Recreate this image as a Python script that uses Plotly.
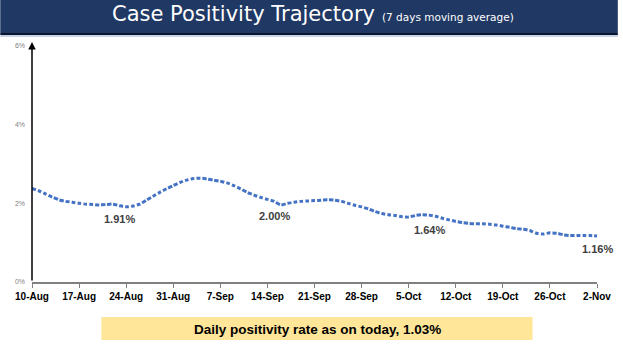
import plotly.graph_objects as go
import pandas as pd

# ---- data ----
start_date = "2020-08-10"
positivity = [
    2.38, 2.32, 2.24, 2.16, 2.09, 2.05, 2.03, 2.00, 1.98, 1.97, 1.96, 1.97, 1.98, 1.94, 1.91, 1.93,
    1.98, 2.08, 2.18, 2.28, 2.37, 2.45,
    2.53, 2.59, 2.63, 2.64, 2.62, 2.59, 2.56, 2.52, 2.45, 2.37, 2.28, 2.21, 2.15, 2.10, 2.05, 1.96,
    2.00, 2.03, 2.05, 2.06, 2.07, 2.08, 2.09, 2.08, 2.05, 2.00, 1.95, 1.91, 1.86, 1.79,
    1.74, 1.71, 1.69, 1.66, 1.65, 1.69, 1.71, 1.70, 1.67, 1.62, 1.58, 1.54, 1.51, 1.49, 1.48, 1.48,
    1.47, 1.45, 1.42, 1.39, 1.36, 1.34, 1.31, 1.24, 1.22, 1.25, 1.24, 1.20, 1.18, 1.18, 1.18,
    1.18, 1.17,
]
dates = pd.date_range(start_date, periods=len(positivity), freq="D")

tick_dates = pd.date_range(start_date, "2020-11-02", freq="7D")
tick_labels = ["10-Aug", "17-Aug", "24-Aug", "31-Aug", "7-Sep", "14-Sep", "21-Sep",
               "28-Sep", "5-Oct", "12-Oct", "19-Oct", "26-Oct", "2-Nov"]

y_ticks = [0, 2, 4, 6]
y_tick_labels = ["0%", "2%", "4%", "6%"]

callout_dates = ["2020-08-24", "2020-09-16", "2020-10-05", "2020-11-02"]
callout_values = [1.91, 2.00, 1.64, 1.16]
callout_labels = ["1.91%", "2.00%", "1.64%", "1.16%"]

title_main = "Case Positivity Trajectory"
title_sub = "(7 days moving average)"
footer_text = "Daily positivity rate as on today, 1.03%"

# ---- layout geometry (pixels) ----
W, H = 623, 354
L, R, T, B = 32, 21, 46, 72
PW, PH = W - L - R, H - T - B


def px(x):
    return (x - L) / PW


def py(y):
    return (H - B - y) / PH


fig = go.Figure()
fig.add_trace(go.Scatter(
    x=dates, y=positivity, mode="lines",
    line=dict(color="#4472C4", width=3, dash="4px,2px", shape="spline", smoothing=0.6),
    hoverinfo="skip", showlegend=False,
))

# callout labels (pixel offsets of label centre from the data point)
offsets = [(-7, 12.5), (-6, 12.6), (21, 12.7), (0, 13)]
for d, v, t, (dx, dy) in zip(callout_dates, callout_values, callout_labels, offsets):
    fig.add_annotation(x=d, y=v, text="<b>" + t + "</b>", showarrow=False,
                       xshift=dx, yshift=-dy, yanchor="middle",
                       font=dict(family="Liberation Sans", size=11, color="#404040"))

shapes = []
# title bar
shapes.append(dict(type="rect", xref="paper", yref="paper", x0=px(0), x1=px(W), y0=py(33), y1=py(-2),
                   fillcolor="#1F3864", line=dict(width=0), layer="above"))
shapes.append(dict(type="line", xref="paper", yref="paper", x0=px(0), x1=px(W), y0=py(34), y1=py(34),
                   line=dict(color="#0B1530", width=2)))
shapes.append(dict(type="line", xref="paper", yref="paper", x0=px(0), x1=px(W), y0=py(36), y1=py(36),
                   line=dict(color="#C9D3E6", width=2)))
# footer box
shapes.append(dict(type="rect", xref="paper", yref="paper", x0=px(102), x1=px(537), y0=py(340), y1=py(317),
                   fillcolor="#FFE699", line=dict(width=0)))
fig.update_layout(shapes=shapes)

fig.add_annotation(xref="paper", yref="paper", x=px(111), y=py(13.5), xanchor="left", yanchor="middle",
                   text=title_main, showarrow=False,
                   font=dict(family="DejaVu Sans", size=21, color="white"))
fig.add_annotation(xref="paper", yref="paper", x=px(383), y=py(17), xanchor="left", yanchor="middle",
                   text=title_sub, showarrow=False,
                   font=dict(family="DejaVu Sans", size=10.5, color="white"))
fig.add_annotation(xref="paper", yref="paper", x=px(320), y=py(329), xanchor="center", yanchor="middle",
                   text="<b>" + footer_text + "</b>", showarrow=False,
                   font=dict(family="Liberation Sans", size=13.5, color="black"))

# y-axis arrow
fig.add_annotation(xref="paper", yref="paper", x=0, y=py(42), ax=0, ay=PH + 4,
                   showarrow=True, arrowhead=2, arrowsize=1, arrowwidth=1.5, arrowcolor="black", text="")

fig.update_xaxes(range=[dates[0], dates[-1]], tickvals=tick_dates, ticktext=tick_labels,
                 showline=True, linecolor="#808080", linewidth=1.5, ticks="outside", ticklen=4,
                 tickcolor="#808080", showgrid=False, zeroline=False,
                 tickfont=dict(family="Liberation Sans", size=10, color="black", weight="bold"))
fig.update_yaxes(range=[0, 6], tickvals=y_ticks, ticktext=y_tick_labels, showgrid=False,
                 zeroline=False, showline=False, ticks="", ticklabelstandoff=6,
                 tickfont=dict(family="Liberation Sans", size=7, color="#7F7F7F"))

fig.update_layout(width=W, height=H, margin=dict(l=L, r=R, t=T, b=B),
                  paper_bgcolor="white", plot_bgcolor="white")

fig.write_html("out.html")
